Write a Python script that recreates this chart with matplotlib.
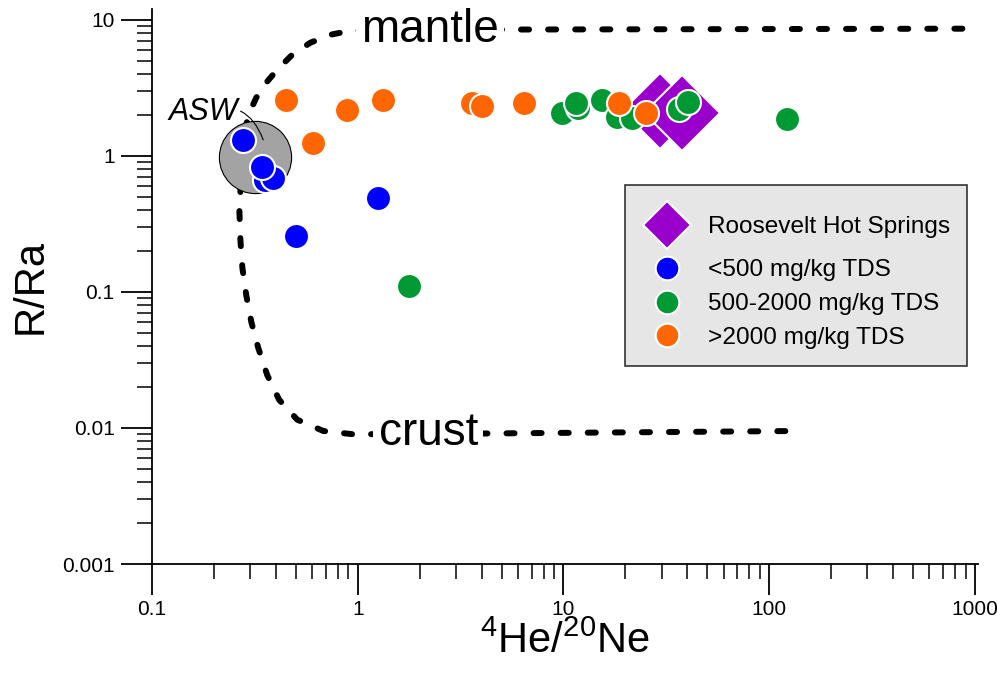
"""Helium isotope plot: R/Ra vs 4He/20Ne with mantle/crust mixing curves."""

import matplotlib

matplotlib.use("Agg")
import matplotlib.pyplot as plt
from matplotlib.legend_handler import HandlerLine2D
from matplotlib.lines import Line2D
from matplotlib.ticker import LogLocator, FixedFormatter, FixedLocator, NullFormatter

plt.rcParams["font.family"] = ["Liberation Sans", "DejaVu Sans"]
plt.rcParams["mathtext.fontset"] = "custom"
plt.rcParams["mathtext.rm"] = "Liberation Sans"
plt.rcParams["lines.scale_dashes"] = False

# mixing curves
mantle_x = [0.278, 0.281, 0.294, 0.321, 0.355, 0.406, 0.48, 0.588, 0.735, 0.92, 1.29, 870]
mantle_y = [0.98, 1.43, 2.0, 2.67, 3.38, 4.29, 5.53, 6.78, 7.76, 8.3, 8.44, 8.6]
crust_x = [0.278, 0.269, 0.266, 0.269, 0.275, 0.287, 0.304, 0.328, 0.363, 0.415,
           0.508, 0.68, 0.94, 1.6, 141]
crust_y = [0.98, 0.56, 0.39, 0.24, 0.15, 0.095, 0.060, 0.039, 0.0245, 0.0161,
           0.0115, 0.0095, 0.0090, 0.0090, 0.0095]

asw_x, asw_y = 0.318, 0.985

# Roosevelt Hot Springs
rhs_x = [29.5, 37.8]
rhs_y = [2.14, 2.07]

# <500 mg/kg TDS
low_x = [0.355, 0.388, 0.343, 0.278, 0.502, 1.26]
low_y = [0.667, 0.69, 0.83, 1.31, 0.258, 0.491]

# 500-2000 mg/kg TDS
mid_x = [1.78, 9.86, 11.8, 11.5, 15.4, 18.3, 21.6, 36.5, 40.4, 122]
mid_y = [0.111, 2.07, 2.25, 2.45, 2.58, 1.94, 1.90, 2.22, 2.50, 1.87]

# >2000 mg/kg TDS
high_x = [0.449, 0.608, 0.889, 1.33, 3.60, 4.03, 6.45, 18.7, 25.2]
high_y = [2.58, 1.25, 2.18, 2.58, 2.45, 2.33, 2.45, 2.45, 2.07]

labels = ["Roosevelt Hot Springs", "<500 mg/kg TDS", "500-2000 mg/kg TDS", ">2000 mg/kg TDS"]
x_ticks = [0.1, 1, 10, 100, 1000]
x_ticklabels = ["0.1", "1", "10", "100", "1000"]
y_ticks = [0.001, 0.01, 0.1, 1, 10]
y_ticklabels = ["0.001", "0.01", "0.1", "1", "10"]

BLUE = "#0000ff"
GREEN = "#009933"
ORANGE = "#ff6600"
PURPLE = "#9900cc"


class TallHandler(HandlerLine2D):
    """Legend handler that gives its row some extra height (for the big diamond)."""

    def __init__(self, extra, **kw):
        super().__init__(**kw)
        self.extra = extra

    def legend_artist(self, legend, orig_handle, fontsize, handlebox):
        e = self.extra * fontsize
        handlebox.height += 2 * e
        handlebox.ydescent += e
        return super().legend_artist(legend, orig_handle, fontsize, handlebox)

    def create_artists(self, legend, orig_handle, xdescent, ydescent, width, height,
                       fontsize, trans):
        return super().create_artists(legend, orig_handle, xdescent, ydescent, width,
                                      height - ydescent, fontsize, trans)


W, H = 997, 673
fig = plt.figure(figsize=(W / 100, H / 100), dpi=100)
ax = fig.add_axes([152 / W, (H - 564) / H, (977.6 - 152) / W, (564 - 9) / H])
ax.set_xscale("log")
ax.set_yscale("log")
ax.set_xlim(0.1, 1030)
ax.set_ylim(0.001, 12)

dash_kw = dict(color="black", lw=4.3, dashes=(5.8, 13.7), dash_capstyle="round", zorder=2)
ax.plot(mantle_x, mantle_y, **dash_kw)
ax.plot(crust_x, crust_y, **dash_kw)

ax.plot([asw_x], [asw_y], "o", ms=52, mfc="#a3a3a3", mec="black", mew=0.8, zorder=3)

pt_kw = dict(ls="none", marker="o", ms=18, mec="white", mew=1.5)
ax.plot(rhs_x, rhs_y, ls="none", marker="D", ms=39, mfc=PURPLE, mec="white", mew=1.5, zorder=4)
ax.plot(low_x, low_y, mfc=BLUE, zorder=5, **pt_kw)
ax.plot(mid_x, mid_y, mfc=GREEN, zorder=5, **pt_kw)
ax.plot(high_x, high_y, mfc=ORANGE, zorder=6, **pt_kw)

bbox_w = dict(facecolor="white", edgecolor="none", pad=3.5)
ax.text(2.25, 8.44, "mantle", fontsize=33, ha="center", va="center", bbox=bbox_w, zorder=3)
ax.text(2.2, 0.0092, "crust", fontsize=33, ha="center", va="center", bbox=bbox_w, zorder=3)
ax.annotate("ASW", xy=(0.347, 1.31), xytext=(0.12, 2.1), fontsize=22, style="italic",
            va="center", ha="left", zorder=4,
            arrowprops=dict(arrowstyle="-", color="black", lw=0.8,
                            connectionstyle="arc3,rad=-0.5", shrinkA=0, shrinkB=0))

# axes styling
for side in ("top", "right"):
    ax.spines[side].set_visible(False)
for side in ("left", "bottom"):
    ax.spines[side].set_linewidth(1.3)
ax.xaxis.set_major_locator(FixedLocator(x_ticks))
ax.xaxis.set_major_formatter(FixedFormatter(x_ticklabels))
ax.yaxis.set_major_locator(FixedLocator(y_ticks))
ax.yaxis.set_major_formatter(FixedFormatter(y_ticklabels))
ax.xaxis.set_minor_locator(LogLocator(base=10, subs=range(2, 10)))
ax.yaxis.set_minor_locator(LogLocator(base=10, subs=range(2, 10)))
ax.xaxis.set_minor_formatter(NullFormatter())
ax.yaxis.set_minor_formatter(NullFormatter())
ax.tick_params(which="major", length=22, width=1.3, labelsize=15)
ax.tick_params(which="minor", length=11, width=1.1)
ax.tick_params(axis="x", which="major", pad=4)
ax.tick_params(axis="y", which="major", pad=5)

ax.set_xlabel(r"$^{4}$He/$^{20}$Ne", fontsize=30, labelpad=2)
ax.set_ylabel("R/Ra", fontsize=30, labelpad=8)

handles = [
    Line2D([], [], ls="none", marker="D", ms=24, mfc=PURPLE, mec="white", mew=1.5),
    Line2D([], [], ls="none", marker="o", ms=17, mfc=BLUE, mec="white", mew=1.5),
    Line2D([], [], ls="none", marker="o", ms=17, mfc=GREEN, mec="white", mew=1.5),
    Line2D([], [], ls="none", marker="o", ms=17, mfc=ORANGE, mec="white", mew=1.5),
]
leg = ax.legend(handles, labels, loc="upper left", bbox_to_anchor=(0.573, 0.683),
                fontsize=17.6, frameon=True, fancybox=False, framealpha=1,
                facecolor="#e6e6e6", edgecolor="#333333", borderpad=0.7,
                labelspacing=0.48, handlelength=2.05, handletextpad=0.65,
                borderaxespad=0, handler_map={handles[0]: TallHandler(0.58)})
leg.get_frame().set_linewidth(1.2)

fig.savefig("out.png", dpi=100)
